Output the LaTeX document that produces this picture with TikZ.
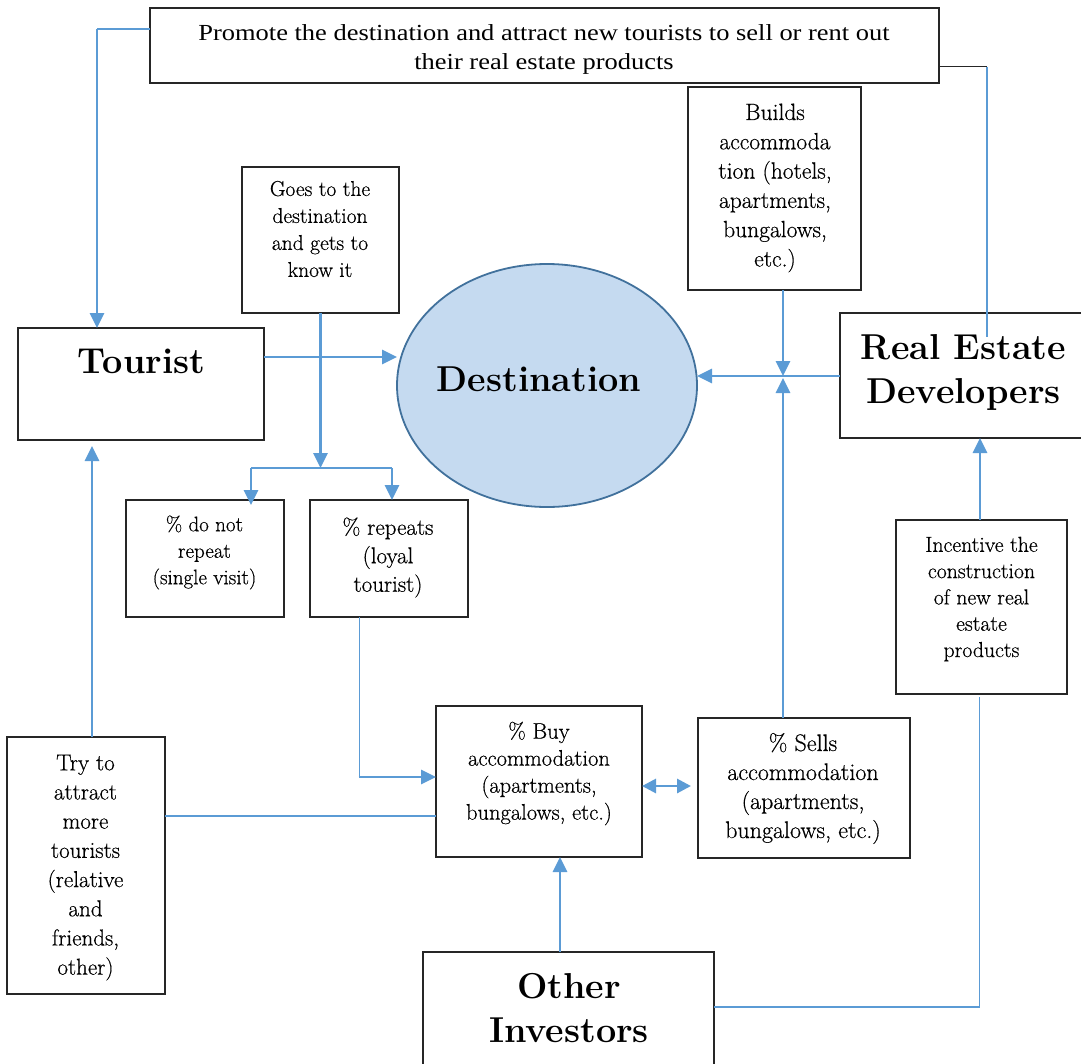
\documentclass[tikz,border=0pt]{standalone}
\usepackage{fontspec}
\newfontfamily\timesf[FakeStretch=1.15]{Liberation Serif}
\newfontfamily\bodyf[FakeBold=0.5]{Latin Modern Roman}
\usetikzlibrary{arrows.meta,shapes.geometric,calc}
\definecolor{ablue}{HTML}{5B9BD5}
\definecolor{efill}{HTML}{C5DAF0}
\definecolor{edraw}{HTML}{41719C}
\begin{document}
\begin{tikzpicture}[x=1pt,y=-1pt,
  box/.style={draw=black!85,line width=1.2pt,inner sep=0pt,outer sep=0pt,rectangle},
  txt/.style={align=center,inner sep=0pt},
  arr/.style={draw=ablue,line width=2.9pt,-{Triangle[length=15pt,width=14pt]}},
  darr/.style={draw=ablue,line width=2.9pt,{Triangle[length=14pt,width=14pt]}-{Triangle[length=14pt,width=14pt]}},
  thinl/.style={draw=ablue,line width=1.5pt},
  bigt/.style={txt,font=\bfseries\fontsize{36}{44.5}\selectfont}
]
\useasboundingbox (0,0) rectangle (1081,1063);

% boxes
\node[box,minimum width=789pt,minimum height=75pt] (promote) at (544.5,45.5) {};
\node[txt,font=\timesf\fontsize{23}{29}\selectfont] (promotet) at (544,49) {Promote the destination and attract new tourists to sell or rent out\\their real estate products};

\node[box,minimum width=157pt,minimum height=146pt] (goes) at (320.5,240) {};
\node[txt,font=\bodyf\fontsize{21.5}{27}\selectfont] (goest) at (320,229) {Goes to the\\destination\\and gets to\\know it};

\node[box,minimum width=173pt,minimum height=203pt] (builds) at (774.5,188.5) {};
\node[txt,font=\bodyf\fontsize{23.5}{29.3}\selectfont] (buildst) at (775,188) {Builds\\accommoda\\tion (hotels,\\apartments,\\bungalows,\\etc.)};

\node[box,minimum width=246pt,minimum height=112pt] (tourist) at (141,384) {};
\node[bigt] (touristt) at (141.5,361) {Tourist};

\node[ellipse,draw=edraw,fill=efill,line width=1.8pt,outer sep=0pt,inner sep=0pt,minimum width=300pt,minimum height=243pt] (dest) at (547,385.5) {};
\node[bigt] (destt) at (539,379) {Destination};

\node[box,minimum width=250pt,minimum height=125pt] (red) at (965,375.5) {};
\node[bigt] (redt) at (963.5,372.5) {Real Estate\\Developers};

\node[box,minimum width=158pt,minimum height=117pt] (dnr) at (205,558.5) {};
\node[txt,font=\bodyf\fontsize{21}{26.5}\selectfont] (dnrt) at (204.5,552.5) {\% do not\\repeat\\(single visit)};

\node[box,minimum width=158pt,minimum height=117pt] (rep) at (389,558.5) {};
\node[txt,font=\bodyf\fontsize{23}{28.5}\selectfont] (rept) at (388,557.5) {\% repeats\\(loyal\\tourist)};

\node[box,minimum width=206pt,minimum height=151pt] (buy) at (539,781.5) {};
\node[txt,font=\bodyf\fontsize{22.5}{27}\selectfont] (buyt) at (539,773.5) {\% Buy\\accommodation\\(apartments,\\bungalows, etc.)};

\node[box,minimum width=212pt,minimum height=140pt] (sells) at (804,788) {};
\node[txt,font=\bodyf\fontsize{24}{29}\selectfont] (sellst) at (803,788.5) {\% Sells\\accommodation\\(apartments,\\bungalows, etc.)};

\node[box,minimum width=171pt,minimum height=174pt] (incentive) at (981.5,607) {};
\node[txt,font=\bodyf\fontsize{21.7}{26.3}\selectfont] (incentivet) at (981.5,599) {Incentive the\\construction\\of new real\\estate\\products};

\node[box,minimum width=158pt,minimum height=257pt] (try) at (86,865.5) {};
\node[txt,font=\bodyf\fontsize{23}{29.2}\selectfont] (tryt) at (85.5,867.5) {Try to\\attract\\more\\tourists\\(relative\\and\\friends,\\other)};

\node[box,minimum width=291pt,minimum height=118pt] (other) at (568.5,1011) {};
\node[bigt] (othert) at (569,1008) {Other\\Investors};

% connectors
\coordinate (p1) at (97,29);
\draw[thinl] (promote.west |- p1) -- (p1);
\draw[arr] (p1) -- (p1 |- tourist.north);

\coordinate (p2) at (987,66.5);
\coordinate (p3) at (987,337);
\draw[draw=black!85,line width=1.1pt] (promote.east |- p2) -- (p2);
\draw[thinl] (p2) -- (p3);

\coordinate (t1) at (0,357);
\draw[arr] (tourist.east |- t1) -- (dest.west |- t1);

\coordinate (s0) at (320.5,468);
\coordinate (sL) at (251,468);
\coordinate (sR) at (392,468);
\draw[arr] (goes.south) -- (s0);
\draw[draw=ablue,line width=2pt] (sL) -- (sR);
\draw[arr,shorten >=-5pt] (sL) -- (sL |- dnr.north);
\draw[arr] (sR) -- (sR |- rep.north);

\coordinate (j) at (783,376);
\coordinate (j2) at (783,378);
\draw[arr] (builds.south -| j) -- (j);
\draw[arr] (red.west |- j) -- (dest.east |- j);
\draw[arr] (sells.north -| j2) -- (j2);

\coordinate (i1) at (980,0);
\draw[arr] (incentive.north -| i1) -- (red.south -| i1);
\coordinate (i2) at (979.5,1007);
\draw[thinl] ($(incentive.south -| i2)+(0,3)$) -- (i2) -- (other.east |- i2);

\coordinate (o1) at (560,0);
\draw[arr] (other.north -| o1) -- (buy.south -| o1);

\coordinate (b1) at (0,786);
\coordinate (b2) at (691,786);
\draw[darr] (buy.east |- b1) -- (b2);

\coordinate (r1) at (359.5,777);
\draw[thinl] (rep.south -| r1) -- (r1);
\draw[arr] ($(r1)+(-1,0)$) -- (buy.west |- r1);

\coordinate (y1) at (92,0);
\draw[arr,shorten >=6pt] (try.north -| y1) -- (tourist.south -| y1);
\coordinate (y2) at (0,816);
\draw[thinl] (try.east |- y2) -- (buy.west |- y2);
\end{tikzpicture}
\end{document}
